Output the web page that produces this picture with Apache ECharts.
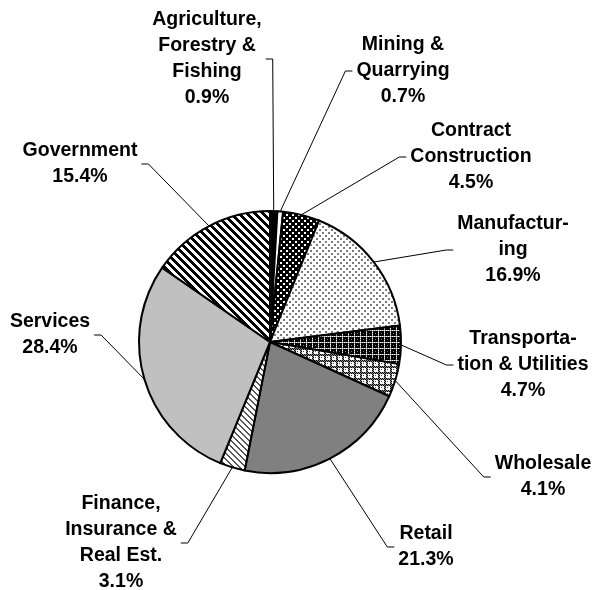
<!DOCTYPE html>
<html>
<head>
<meta charset="utf-8">
<script src="https://cdn.jsdelivr.net/npm/echarts@6/dist/echarts.min.js"></script>
<style>
html,body{margin:0;padding:0;background:#ffffff;}
#chart{width:595px;height:590px;}
</style>
</head>
<body>
<div id="chart"></div>
<script>
// ---- data ----
const categories = [
  'Agriculture,\nForestry &\nFishing',
  'Mining &\nQuarrying',
  'Contract\nConstruction',
  'Manufactur-\ning',
  'Transporta-\ntion & Utilities',
  'Wholesale',
  'Retail',
  'Finance,\nInsurance &\nReal Est.',
  'Services',
  'Government'
];
const shares = [0.9, 0.7, 4.5, 16.9, 4.7, 4.1, 21.3, 3.1, 28.4, 15.4];

// ---- layout (label block centres, px) ----
const labelCenters = [
  [207, 59], [403, 71], [471, 157], [513, 250], [523, 365],
  [543, 477], [426, 547], [121, 543], [50, 335], [80, 164]
];

// ---- pattern fills ----
function tile(w, h, bg, paint) {
  const c = document.createElement('canvas');
  c.width = w; c.height = h;
  const ctx = c.getContext('2d');
  ctx.fillStyle = bg; ctx.fillRect(0, 0, w, h);
  for (let y = 0; y < h; y++) for (let x = 0; x < w; x++) {
    const col = paint(x, y);
    if (col) { ctx.fillStyle = col; ctx.fillRect(x, y, 1, 1); }
  }
  return { image: c, repeat: 'repeat' };
}
const fills = [
  '#000000',
  '#ffffff',
  tile(6, 6, '#000000', (x, y) => ((x >= 1 && x <= 2 && y >= 1 && y <= 2) || (x >= 4 && y >= 4)) ? '#ffffff' : null),
  tile(6, 6, '#ffffff', (x, y) => ((x >= 1 && x <= 2 && y >= 1 && y <= 2) || (x >= 4 && y >= 4)) ? '#7a7a7a' : null),
  tile(6, 6, '#000000', (x, y) => {
    if (x === 0 || y === 0) return ((x + y) % 2 === 0) ? '#ffffff' : '#9a9a9a';
    if ((x === 3 && y === 3)) return '#777777';
    return null;
  }),
  tile(6, 6, '#ffffff', (x, y) => {
    if ((x <= 1 || y <= 1) && ((x + y) % 2 === 0)) return '#000000';
    if (x <= 1 || y <= 1) return '#8a8a8a';
    if (x === 3 && y === 3) return '#555555';
    return null;
  }),
  '#808080',
  tile(6, 6, '#ffffff', (x, y) => (((x - y + 12) % 6) < 2) ? '#555555' : null),
  '#c0c0c0',
  tile(8, 8, '#ffffff', (x, y) => (((x - y + 16) % 8) < 4) ? '#000000' : null)
];

const chart = echarts.init(document.getElementById('chart'), null, { renderer: 'canvas' });
chart.setOption({
  animation: false,
  backgroundColor: '#ffffff',
  series: [{
    type: 'pie',
    center: [270, 342],
    radius: 131,
    startAngle: 90,
    clockwise: true,
    avoidLabelOverlap: false,
    silent: true,
    data: categories.map((name, i) => ({
      name: name,
      value: shares[i],
      itemStyle: { color: fills[i] }
    })),
    itemStyle: { borderColor: '#000000', borderWidth: 2 },
    label: {
      show: true,
      position: 'outside',
      formatter: p => p.name + '\n' + p.value.toFixed(1) + '%',
      fontFamily: 'Liberation Sans, Arial, sans-serif',
      fontWeight: 'bold',
      fontSize: 19.5,
      lineHeight: 26,
      color: '#000000',
      align: 'center'
    },
    labelLine: {
      show: true,
      length: 10,
      length2: 10,
      lineStyle: { color: '#000000', width: 1 }
    },
    labelLayout: function (p) {
      const c = labelCenters[p.dataIndex];
      const anchor = p.labelLinePoints[0];
      const w = p.labelRect.width;
      const side = c[0] < anchor[0] ? 1 : -1;
      const near = c[0] + side * (w / 2 + 4);
      const far = near + side * 7;
      return {
        x: c[0], y: c[1], align: 'center', verticalAlign: 'middle',
        labelLinePoints: [anchor, [far, c[1]], [near, c[1]]]
      };
    },
    emphasis: { disabled: true }
  }]
});
</script>
</body>
</html>
